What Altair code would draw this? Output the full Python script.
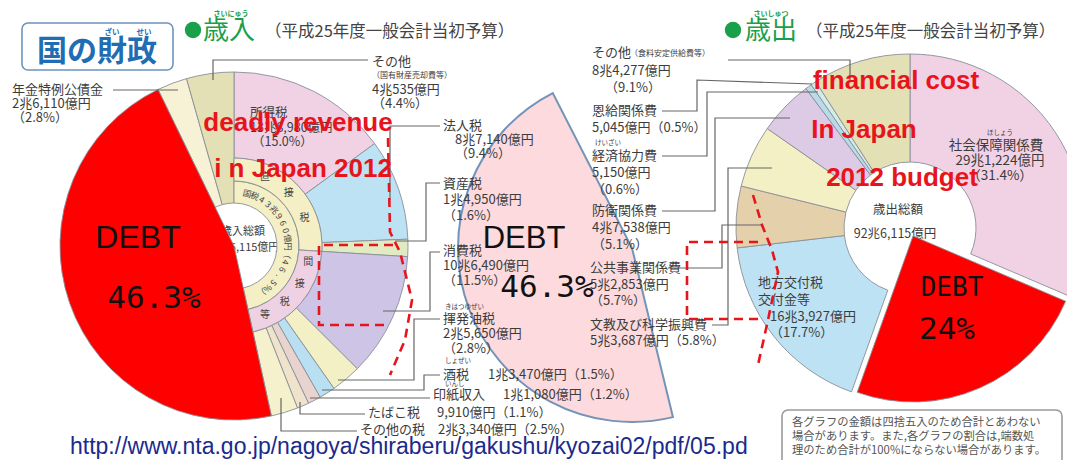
import altair as alt
import pandas as pd
import numpy as np

# ---------------- data ----------------
rev_names = ["所得税", "法人税", "資産税", "消費税", "揮発油税", "酒税", "印紙収入",
             "たばこ税", "その他の税", "公債金", "年金特例公債金", "その他"]
rev_values = [15.0, 9.4, 1.6, 11.5, 2.8, 1.5, 1.2, 1.1, 2.5, 46.3, 2.8, 4.4]
rev_amounts = ["13兆8,980億円", "8兆7,140億円", "1兆4,950億円", "10兆6,490億円",
               "2兆5,650億円", "1兆3,470億円", "1兆1,080億円", "9,910億円",
               "2兆3,340億円", "42兆8,510億円", "2兆6,110億円", "4兆535億円"]
rev_kind = ["直接税"] * 3 + ["間接税等"] * 6 + ["", "", ""]

exp_names = ["社会保障関係費", "国債費", "地方交付税交付金等", "公共事業関係費",
             "文教及び科学振興費", "防衛関係費", "経済協力費", "恩給関係費", "その他"]
exp_values = [31.4, 24.0, 17.7, 5.7, 5.8, 5.1, 0.6, 0.5, 9.1]
exp_amounts = ["29兆1,224億円", "22兆2,415億円", "16兆3,927億円", "5兆2,853億円",
               "5兆3,687億円", "4兆7,538億円", "5,150億円", "5,045億円", "8兆4,277億円"]

total_amount = "92兆6,115億円"
national_tax = "国税43兆960億円（46.5%）"
debt_rev_label = "46.3%"
debt_exp_label = "24%"

# ---------------- styles / layout ----------------
rev_colors = ["#f1d2e5", "#bde2f4", "#e0ebc4", "#cdc4e6", "#f3f0c6", "#b8e0f2",
              "#e8d3cf", "#efe3cc", "#f5f1cd", "#fe0000", "#f7f2d6", "#e4e0b6"]
exp_colors = ["#f1d2e5", "#fe0000", "#bde2f4", "#e4d1ab", "#f3f0c6", "#ddcbe5",
              "#b7dbe9", "#d5ebe7", "#e4e0b6"]

OFF = 8
W, H = 1075 - 2 * OFF, 468 - 2 * OFF
JP = "Noto Sans CJK JP"
LAT = "Liberation Sans"
MONO = "DejaVu Sans Mono"
INK = "#3c3c3c"
RED = "#e8141c"
EDGE = "#8a8f96"

LC = (234, 246)      # left pie centre (page px)
RC = (910, 228)      # right pie centre
MC = (632, 248)      # copied debt wedge centre
R_OUT = 174
MID_ROT = np.deg2rad(166.4)
THETA = alt.Scale(domain=[0, 1], range=[0, 2 * np.pi])


def pct(v):
    return f"（{v:.1f}%）"


# ---------------- pies ----------------
arc_rows = []
debt_rev = rev_names.index("公債金")
for i, (n, v, c) in enumerate(zip(rev_names, rev_values, rev_colors)):
    if i < 9:
        r0, r1 = 88, R_OUT
    elif i == debt_rev:
        r0, r1 = 0, R_OUT
    else:
        r0, r1 = 43, R_OUT
    arc_rows.append(dict(pie="rev", name=n, value=v, ord=i, fill=c, stroke=EDGE,
                         r0=r0, r1=r1, cx=LC[0], cy=LC[1], draw=1 if i == debt_rev else 0))

taxes_total = sum(rev_values[:9])
others_total = sum(rev_values[9:])
arc_rows.append(dict(pie="ringA", name="国税", value=taxes_total, ord=0, fill="#f4efc4",
                     stroke=EDGE, r0=43, r1=65, cx=LC[0], cy=LC[1], draw=0))
arc_rows.append(dict(pie="ringA", name="rest", value=others_total, ord=1, fill="transparent",
                     stroke="transparent", r0=43, r1=65, cx=LC[0], cy=LC[1], draw=0))
direct = sum(v for v, k in zip(rev_values, rev_kind) if k == "直接税")
indirect = sum(v for v, k in zip(rev_values, rev_kind) if k == "間接税等")
for j, (n, v, c, s) in enumerate([("直接税", direct, "#f4efc4", EDGE),
                                  ("間接税等", indirect, "#eed2e4", EDGE),
                                  ("rest", others_total, "transparent", "transparent")]):
    arc_rows.append(dict(pie="ringB", name=n, value=v, ord=j, fill=c, stroke=s,
                         r0=65, r1=88, cx=LC[0], cy=LC[1], draw=0))

debt_exp = exp_names.index("国債費")
for i, (n, v, c) in enumerate(zip(exp_names, exp_values, exp_colors)):
    if i == debt_exp:
        arc_rows.append(dict(pie="exp", name=n, value=v, ord=i, fill=c, stroke=EDGE,
                             r0=0, r1=166, cx=RC[0] + 3, cy=RC[1] + 8, draw=1))
    else:
        arc_rows.append(dict(pie="exp", name=n, value=v, ord=i, fill=c, stroke=EDGE,
                             r0=66, r1=R_OUT, cx=RC[0], cy=RC[1], draw=0))

arc_df = pd.DataFrame(arc_rows)
arc_df["cx"] -= OFF
arc_df["cy"] -= OFF
arc_df = arc_df.sort_values("draw", kind="stable")

arcs = alt.Chart(arc_df).transform_stack(
    stack="value", groupby=["pie"], as_=["v0", "v1"], offset="normalize",
    sort=[alt.SortField("ord", order="ascending")]
).mark_arc(strokeWidth=0.9).encode(
    x=alt.X("cx:Q", scale=None),
    y=alt.Y("cy:Q", scale=None),
    theta=alt.Theta("v0:Q", scale=THETA, stack=False),
    theta2="v1:Q",
    radius=alt.Radius("r1:Q", scale=None, stack=False),
    radius2="r0:Q",
    fill=alt.Fill("fill:N", scale=None),
    stroke=alt.Stroke("stroke:N", scale=None),
)

# copied DEBT wedge in the middle
mid_df = pd.DataFrame({"name": [rev_names[debt_rev]], "value": [rev_values[debt_rev]],
                       "total": [sum(rev_values)], "cx": [MC[0] - OFF], "cy": [MC[1] - OFF]})
mid = alt.Chart(mid_df).transform_calculate(v0="0", v1="datum.value / datum.total").mark_arc(
    fill="#fcdadd", stroke="#7393b8", strokeWidth=2, outerRadius=R_OUT
).encode(
    x=alt.X("cx:Q", scale=None), y=alt.Y("cy:Q", scale=None),
    theta=alt.Theta("v0:Q", scale=alt.Scale(domain=[0, 1], range=[MID_ROT, MID_ROT + 2 * np.pi]),
                    stack=False),
    theta2="v1:Q",
)


# ---------------- helpers ----------------
def text_layer(rows, font=JP, weight="normal", align="left", baseline="middle"):
    df = pd.DataFrame(rows, columns=["text", "x", "y", "size", "color"])
    df["x"] = df["x"] - OFF
    df["y"] = df["y"] - OFF
    return alt.Chart(df).mark_text(font=font, fontWeight=weight, align=align,
                                   baseline=baseline).encode(
        x=alt.X("x:Q", scale=None), y=alt.Y("y:Q", scale=None), text="text:N",
        size=alt.Size("size:Q", scale=None), color=alt.Color("color:N", scale=None))


def polyline_layer(lines, color, width, dash=None):
    rows = []
    for li, pts in enumerate(lines):
        for k, (x, y) in enumerate(pts):
            rows.append(dict(id=li, k=k, x=x - OFF, y=y - OFF))
    kw = dict(color=color, strokeWidth=width)
    if dash:
        kw["strokeDash"] = dash
    return alt.Chart(pd.DataFrame(rows)).mark_line(**kw).encode(
        x=alt.X("x:Q", scale=None), y=alt.Y("y:Q", scale=None),
        detail="id:N", order="k:Q")


def polar_text(chars, start, end, r, centre, size, color, rotate=True):
    pos = np.linspace(start, end, len(chars)) / 360.0
    df = pd.DataFrame({"ch": list(chars), "t": pos, "r": r,
                       "ang": pos * 360 if rotate else 0,
                       "cx": centre[0] - OFF, "cy": centre[1] - OFF})
    return alt.Chart(df).mark_text(font=JP, fontSize=size, color=color, align="center",
                                   baseline="middle").encode(
        x=alt.X("cx:Q", scale=None), y=alt.Y("cy:Q", scale=None),
        theta=alt.Theta("t:Q", scale=THETA, stack=False),
        radius=alt.Radius("r:Q", scale=None, stack=False),
        angle=alt.Angle("ang:Q", scale=None), text="ch:N")


# ---------------- boxes ----------------
box_df = pd.DataFrame({"x": [22 - OFF, 782 - OFF], "x2": [173 - OFF, 1062 - OFF],
                       "y": [23 - OFF, 410 - OFF], "y2": [70 - OFF, 465 - OFF],
                       "s": ["#6d93bd", "#9a9a9a"]})
boxes = alt.Chart(box_df).mark_rect(cornerRadius=6, fill="white", strokeWidth=1.6).encode(
    x=alt.X("x:Q", scale=None), x2="x2:Q", y=alt.Y("y:Q", scale=None), y2="y2:Q",
    stroke=alt.Stroke("s:N", scale=None))

dots_df = pd.DataFrame({"x": [193 - OFF, 733 - OFF], "y": [30 - OFF, 30 - OFF]})
dots = alt.Chart(dots_df).mark_circle(size=270, color="#1aa04a", opacity=1).encode(
    x=alt.X("x:Q", scale=None), y=alt.Y("y:Q", scale=None))

# ---------------- texts ----------------
hole_txt = text_layer([
    ("歳入総額", 243, 232, 11, INK), (total_amount, 243, 248, 11, INK),
    ("歳出総額", 898, 210, 12.5, INK), (total_amount, 895, 234, 12.5, INK),
], align="center")

L = []
# left pie labels
L += [(rev_names[0], 250, 113, 12.5, INK), (rev_amounts[0], 250, 128, 12.5, INK),
      (pct(rev_values[0]), 252, 142, 12.5, INK)]
L += [(rev_names[1], 443, 126, 13, INK), (rev_amounts[1], 455, 140, 13, INK),
      (pct(rev_values[1]), 455, 154, 13, INK)]
L += [(rev_names[2], 443, 184, 13, INK), (rev_amounts[2], 443, 200, 13, INK),
      (pct(rev_values[2]), 443, 216, 13, INK)]
L += [(rev_names[3], 443, 251, 13, INK), (rev_amounts[3], 443, 266, 13, INK),
      (pct(rev_values[3]), 443, 281, 13, INK)]
L += [(rev_names[4], 443, 319, 13, INK), (rev_amounts[4], 443, 334, 13, INK),
      (pct(rev_values[4]), 443, 349, 13, INK)]
L += [(rev_names[5], 443, 375, 13, INK), (rev_amounts[5] + pct(rev_values[5]), 488, 375, 13, INK)]
L += [(rev_names[6], 433, 395, 13, INK), (rev_amounts[6] + pct(rev_values[6]), 503, 395, 13, INK)]
L += [(rev_names[7], 368, 413, 13, INK), (rev_amounts[7] + pct(rev_values[7]), 437, 413, 13, INK)]
L += [(rev_names[8], 360, 430, 13, INK), (rev_amounts[8] + pct(rev_values[8]), 438, 430, 13, INK)]
L += [(rev_names[10], 12, 90, 13, INK), (rev_amounts[10], 12, 104, 13, INK),
      (pct(rev_values[10]), 12, 118, 13, INK)]
L += [(rev_names[11], 372, 62, 13, INK), ("（国有財産売却費等）", 372, 76, 8, INK),
      (rev_amounts[11], 372, 90, 13, INK), (pct(rev_values[11]), 372, 104, 13, INK)]
# right pie labels
L += [(exp_names[8], 592, 53, 13, INK), ("（食料安定供給費等）", 630, 54, 8, INK),
      (exp_amounts[8], 592, 71, 13, INK), (pct(exp_values[8]), 605, 88, 13, INK)]
L += [(exp_names[7], 592, 111, 13, INK), (exp_amounts[7] + pct(exp_values[7]), 592, 128, 13, INK)]
L += [("けいざい", 595, 143, 6.5, INK), (exp_names[6], 592, 156, 13, INK),
      (exp_amounts[6], 592, 173, 13, INK), (pct(exp_values[6]), 592, 190, 13, INK)]
L += [(exp_names[5], 592, 211, 13, INK), (exp_amounts[5], 592, 228, 13, INK),
      (pct(exp_values[5]), 592, 245, 13, INK)]
L += [(exp_names[3], 590, 268, 13, INK), (exp_amounts[3], 590, 285, 13, INK),
      (pct(exp_values[3]), 590, 301, 13, INK)]
L += [(exp_names[4], 590, 325, 13, INK), (exp_amounts[4] + pct(exp_values[4]), 590, 341, 13, INK)]
L += [("地方交付税", 758, 283, 13, INK), ("交付金等", 758, 300, 13, INK),
      (exp_amounts[2], 770, 317, 13, INK), (pct(exp_values[2]), 770, 333, 13, INK)]
L += [("しょぜい", 445, 361, 6.5, INK), ("いんし", 445, 384, 6.5, INK),
      ("きはつゆぜい", 445, 307, 6.5, INK)]
labels = text_layer(L)

labels_c = text_layer([
    ("ほしょう", 1000, 133, 6.5, INK),
    (exp_names[0], 996, 146, 13.5, INK), (exp_amounts[0], 1000, 161, 13.5, INK),
    (pct(exp_values[0]), 1000, 176, 13.5, INK),
], align="center")

titles = text_layer([
    ("国の財政", 97, 52, 30, "#1f6db3"),
    ("ざい", 112, 33, 7.5, "#1f6db3"), ("せい", 144, 33, 7.5, "#1f6db3"),
    ("さいにゅう", 231, 14, 7, "#1aa04a"), ("さいしゅつ", 771, 14, 7, "#1aa04a"),
], weight="bold", align="center")
titles2 = text_layer([
    ("歳入", 203, 31, 26, "#1aa04a"), ("歳出", 745, 31, 26, "#1aa04a"),
])
subtitles = text_layer([
    ("（平成25年度一般会計当初予算）", 265, 32, 16.5, "#444444"),
    ("（平成25年度一般会計当初予算）", 806, 32, 16.5, "#444444"),
])
note = text_layer([
    ("各グラフの金額は四捨五入のため合計とあわない", 792, 423, 11.3, "#555555"),
    ("場合があります。また,各グラフの割合は,端数処", 792, 437, 11.3, "#555555"),
    ("理のため合計が100%にならない場合があります。", 792, 451, 11.3, "#555555"),
])
url = text_layer([("http://www.nta.go.jp/nagoya/shiraberu/gakushu/kyozai02/pdf/05.pd",
                   70, 447, 23, "#1b2a8c")], font=LAT)

red_txt = text_layer([
    ("deadly revenue", 298, 123, 26, RED), ("i n Japan 2012", 303, 169, 26, RED),
    ("financial cost", 896, 81, 26, RED), ("In Japan", 864, 130, 26, RED),
    ("2012 budget", 902, 178, 26, RED),
], font=LAT, weight="bold", align="center")

debt_txt = text_layer([
    ("DEBT", 138, 238, 32, "#111111"), ("DEBT", 524, 239, 31, "#111111"),
], font=LAT, align="center")
debt_mono = text_layer([
    (debt_rev_label, 154, 299, 31, "#111111"), (debt_rev_label, 547, 288, 31, "#111111"),
    ("DEBT", 952, 288, 26, "#111111"), (debt_exp_label, 947, 330, 31, "#111111"),
], font=MONO, align="center")

ringA_txt = polar_text(national_tax, 14, 150, 54, LC, 8.5, "#444444")
ringB_d = polar_text("直接税", 24, 68, 76, LC, 10, "#444444", rotate=False)
ringB_i = polar_text("間接税等", 102, 156, 76, LC, 10, "#444444", rotate=False)

# ---------------- leader lines ----------------
leaders = polyline_layer([
    [(113, 90), (178, 90)],
    [(368, 60), (213, 60), (213, 80)],
    [(440, 126), (390, 126), (390, 200)],
    [(440, 183), (426, 183), (426, 241), (395, 241)],
    [(440, 252), (430, 252), (430, 311), (383, 311)],
    [(440, 319), (414, 319), (414, 380), (338, 380)],
    [(440, 375), (424, 375), (424, 390), (322, 390)],
    [(430, 398), (310, 398)],
    [(365, 414), (300, 414), (300, 402)],
    [(357, 431), (281, 431), (281, 398)],
    [(728, 60), (850, 60), (850, 80)],
    [(662, 111), (697, 111), (697, 80), (812, 84)],
    [(662, 156), (707, 156), (707, 92), (818, 92)],
    [(662, 211), (715, 211), (715, 118), (790, 118)],
    [(668, 268), (722, 268), (722, 225), (763, 225)],
    [(712, 325), (728, 325), (728, 168), (772, 168)],
], "#666666", 1.2)

dashes = polyline_layer([
    [(393, 245), (319, 245), (319, 325), (386, 325)],
    [(388, 138), (390, 232), (400, 252), (412, 300), (405, 340), (390, 375)],
    [(758, 242), (687, 242), (687, 319), (758, 319)],
    [(753, 195), (762, 225), (772, 250), (778, 272), (768, 320), (758, 365)],
], RED, 2.6, dash=[9, 6])

chart = alt.layer(
    boxes, hole_txt, arcs, mid, ringA_txt, ringB_d, ringB_i, leaders, labels, labels_c,
    dots, titles, titles2, subtitles, note, url, red_txt, dashes, debt_txt, debt_mono,
).resolve_scale(theta="independent").properties(
    width=W, height=H, autosize=alt.AutoSizeParams(type="none"), padding=0,
    background="white",
).configure_view(stroke=None)

chart.save("out.html", embed_options={"renderer": "svg", "actions": False})
